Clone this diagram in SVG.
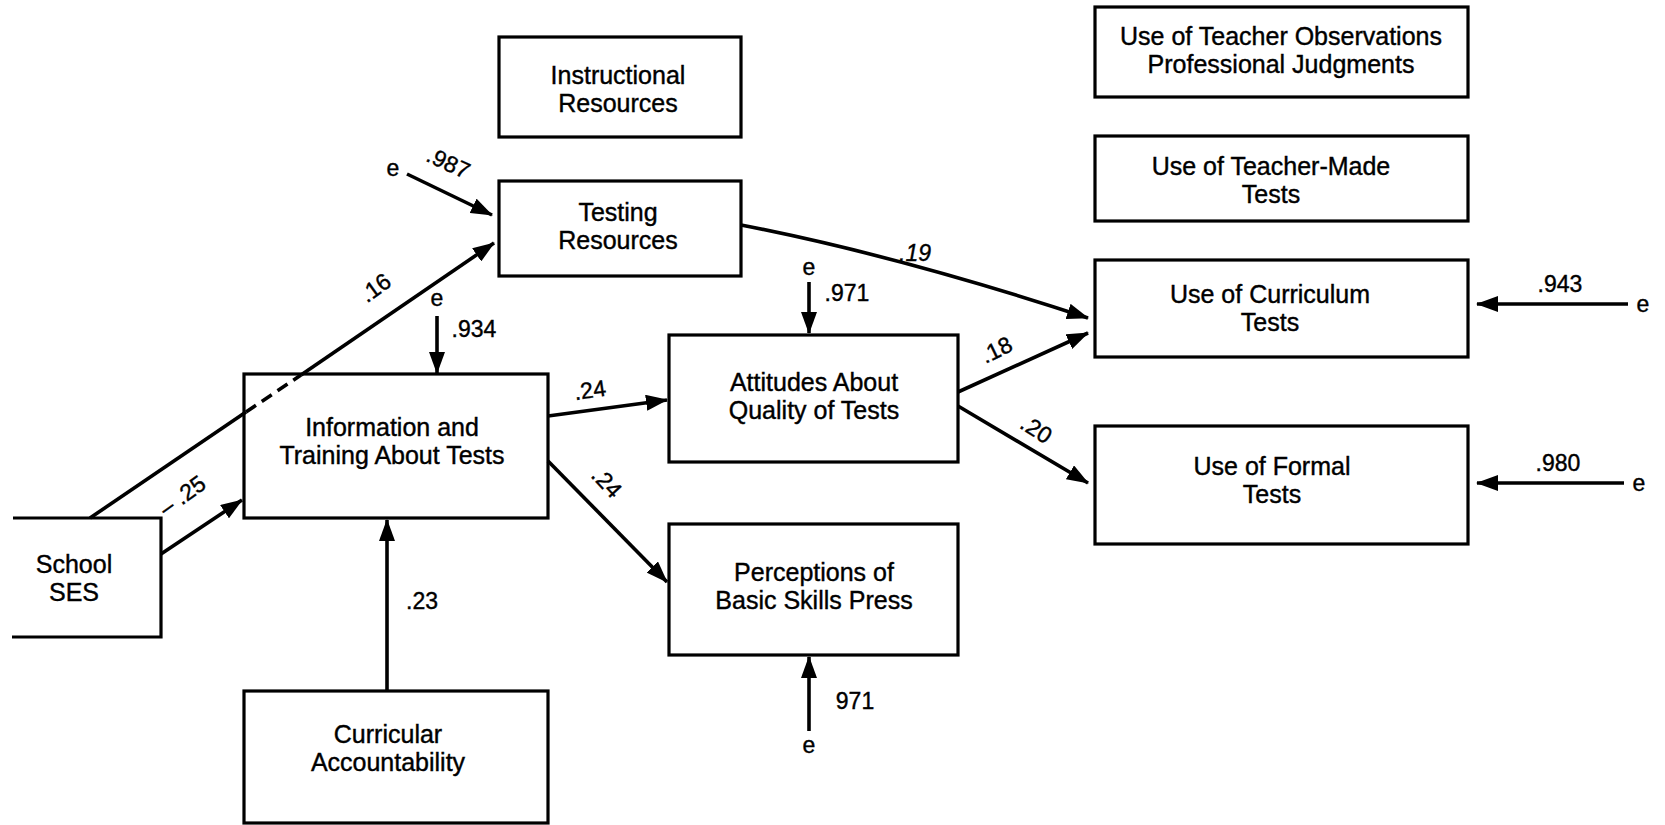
<svg xmlns="http://www.w3.org/2000/svg" width="1665" height="825" viewBox="0 0 1665 825">
<style>
.box{fill:#fff;stroke:#000;stroke-width:3.2}
.t{font-family:"Liberation Sans",Arial,sans-serif;font-size:25px;fill:#000;stroke:#000;stroke-width:0.4;text-anchor:middle}
.l{font-family:"Liberation Sans",Arial,sans-serif;font-size:23px;fill:#000;stroke:#000;stroke-width:0.4;text-anchor:middle}
.c{stroke:#000;stroke-width:3.6;fill:none}
</style>
<defs>
<marker id="ah" markerUnits="userSpaceOnUse" markerWidth="22" markerHeight="16" refX="21" refY="8" orient="auto">
<path d="M0,0 L22,8 L0,16 z" fill="#000"/>
</marker>
</defs>
<rect width="1665" height="825" fill="#fff"/>

<g id="instructional">
<rect class="box" x="499" y="37" width="242" height="100"/>
<text class="t" x="618" y="84">Instructional</text>
<text class="t" x="618" y="112">Resources</text>
</g>
<g id="testing">
<rect class="box" x="499" y="181" width="242" height="95"/>
<text class="t" x="618" y="221">Testing</text>
<text class="t" x="618" y="249">Resources</text>
</g>
<g id="observations">
<rect class="box" x="1095" y="7" width="373" height="90"/>
<text class="t" x="1281" y="45">Use of Teacher Observations</text>
<text class="t" x="1281" y="73">Professional Judgments</text>
</g>
<g id="teachermade">
<rect class="box" x="1095" y="136" width="373" height="85"/>
<text class="t" x="1271" y="175">Use of Teacher-Made</text>
<text class="t" x="1271" y="203">Tests</text>
</g>
<g id="curriculum">
<rect class="box" x="1095" y="260" width="373" height="97"/>
<text class="t" x="1270" y="303">Use of Curriculum</text>
<text class="t" x="1270" y="331">Tests</text>
</g>
<g id="formal">
<rect class="box" x="1095" y="426" width="373" height="118"/>
<text class="t" x="1272" y="475">Use of Formal</text>
<text class="t" x="1272" y="503">Tests</text>
</g>
<g id="attitudes">
<rect class="box" x="669" y="335" width="289" height="127"/>
<text class="t" x="814" y="391">Attitudes About</text>
<text class="t" x="814" y="419">Quality of Tests</text>
</g>
<g id="perceptions">
<rect class="box" x="669" y="524" width="289" height="131"/>
<text class="t" x="814" y="581">Perceptions of</text>
<text class="t" x="814" y="609">Basic Skills Press</text>
</g>
<g id="information">
<rect class="box" x="244" y="374" width="304" height="144"/>
<text class="t" x="392" y="436">Information and</text>
<text class="t" x="392" y="464">Training About Tests</text>
</g>
<g id="curricular">
<rect class="box" x="244" y="691" width="304" height="132"/>
<text class="t" x="388" y="743">Curricular</text>
<text class="t" x="388" y="771">Accountability</text>
</g>
<g id="ses">
<path class="box" d="M13,518 L161,518 L161,637 L12,637" fill="#fff"/>
<text class="t" x="74" y="573">School</text>
<text class="t" x="74" y="601">SES</text>
</g>

<g id="connectors">
<!-- e .987 -> Testing -->
<line class="c" x1="407" y1="174" x2="492" y2="215" marker-end="url(#ah)"/>
<text class="l" x="393" y="176">e</text>
<text class="l" x="445" y="170" transform="rotate(25 445 170)">.987</text>
<!-- SES -> Testing .16 -->
<line class="c" x1="90" y1="518" x2="246" y2="412"/>
<line class="c" x1="246" y1="412" x2="301" y2="375" stroke-dasharray="12,7"/>
<line class="c" x1="301" y1="375" x2="494" y2="243" marker-end="url(#ah)"/>
<text class="l" x="380" y="294" transform="rotate(-36 380 294)">.16</text>
<!-- SES -> Info -.25 -->
<line class="c" x1="161" y1="554" x2="242" y2="500" marker-end="url(#ah)"/>
<text class="l" x="187" y="502" transform="rotate(-36 187 502)">– .25</text>
<!-- e .934 -> Info -->
<line class="c" x1="437" y1="316" x2="437" y2="373" marker-end="url(#ah)"/>
<text class="l" x="437" y="306">e</text>
<text class="l" x="474" y="337">.934</text>
<!-- Curricular -> Info .23 -->
<line class="c" x1="387" y1="691" x2="387" y2="520" marker-end="url(#ah)"/>
<text class="l" x="422" y="609">.23</text>
<!-- Info -> Attitudes .24 -->
<line class="c" x1="548" y1="416" x2="667" y2="400" marker-end="url(#ah)"/>
<text class="l" x="591" y="398" transform="rotate(-8 591 398)">.24</text>
<!-- Info -> Perceptions .24 -->
<line class="c" x1="548" y1="461" x2="667" y2="582" marker-end="url(#ah)"/>
<text class="l" x="601" y="488" transform="rotate(47 601 488)">.24</text>
<!-- e .971 -> Attitudes -->
<line class="c" x1="809" y1="282" x2="809" y2="333" marker-end="url(#ah)"/>
<text class="l" x="809" y="275">e</text>
<text class="l" x="847" y="301">.971</text>
<!-- Testing -> Curriculum .19 -->
<path class="c" d="M741,225 Q900,256 1088,318" marker-end="url(#ah)"/>
<text class="l" x="915" y="261" font-style="italic">.19</text>
<!-- Attitudes -> Curriculum .18 -->
<line class="c" x1="958" y1="392" x2="1088" y2="333" marker-end="url(#ah)"/>
<text class="l" x="1000" y="357" transform="rotate(-26 1000 357)">.18</text>
<!-- Attitudes -> Formal .20 -->
<line class="c" x1="958" y1="406" x2="1088" y2="483" marker-end="url(#ah)"/>
<text class="l" x="1032" y="436" transform="rotate(33 1032 436)">.20</text>
<!-- e .943 -> Curriculum -->
<line class="c" x1="1628" y1="304" x2="1477" y2="304" marker-end="url(#ah)"/>
<text class="l" x="1643" y="312">e</text>
<text class="l" x="1560" y="292">.943</text>
<!-- e .980 -> Formal -->
<line class="c" x1="1624" y1="483" x2="1477" y2="483" marker-end="url(#ah)"/>
<text class="l" x="1639" y="491">e</text>
<text class="l" x="1558" y="471">.980</text>
<!-- e 971 -> Perceptions -->
<line class="c" x1="809" y1="731" x2="809" y2="657" marker-end="url(#ah)"/>
<text class="l" x="809" y="753">e</text>
<text class="l" x="855" y="709">971</text>
</g>
</svg>
